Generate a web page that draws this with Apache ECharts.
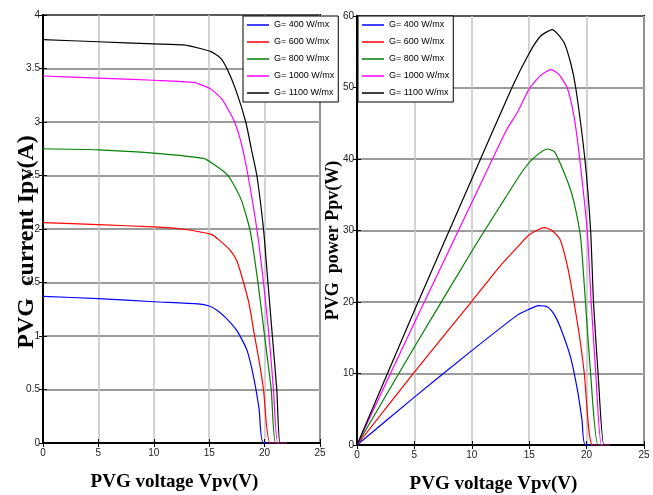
<!DOCTYPE html>
<html>
<head>
<meta charset="utf-8">
<script src="https://cdn.jsdelivr.net/npm/echarts@6/dist/echarts.min.js"></script>
<style>
  html, body { margin: 0; padding: 0; background: #fff; }
  #chart { width: 653px; height: 495px; }
</style>
</head>
<body>
<div id="chart"></div>
<script>
// irradiance levels (legend entries)
const names = ['G= 400 W/mx', 'G= 600 W/mx', 'G= 800 W/mx', 'G= 1000 W/mx', 'G= 1100 W/mx']
const colors = ['#0000ff', '#ff0000', '#008000', '#ff00ff', '#000000']

// I-V curves (voltage V, current A)
const ivVolt400 = [0, 5, 10, 14, 15, 15.7, 16.5, 17.5, 18.4, 19, 19.5, 19.9, 22]
const ivAmp400 = [1.37, 1.35, 1.32, 1.30, 1.28, 1.24, 1.17, 1.05, 0.87, 0.62, 0.32, 0, 0]
const ivVolt600 = [0, 5, 10, 12.5, 15.2, 15.8, 16.9, 17.5, 18.1, 18.6, 19.1, 19.5, 19.9, 20.5, 22]
const ivAmp600 = [2.06, 2.04, 2.02, 2.00, 1.95, 1.905, 1.80, 1.70, 1.50, 1.30, 1.00, 0.77, 0.50, 0, 0]
const ivVolt800 = [0, 5, 10, 14.5, 15.2, 16.4, 16.9, 17.9, 18.7, 19.4, 20.0, 20.6, 21.0, 22]
const ivAmp800 = [2.75, 2.74, 2.71, 2.66, 2.62, 2.53, 2.47, 2.27, 1.98, 1.50, 1.00, 0.50, 0, 0]
const ivVolt1000 = [0, 5, 10, 13.6, 15.1, 16.1, 16.8, 17.3, 17.9, 18.5, 19.3, 19.9, 20.4, 20.8, 21.2, 22]
const ivAmp1000 = [3.43, 3.41, 3.39, 3.37, 3.31, 3.22, 3.10, 3.00, 2.80, 2.50, 2.00, 1.50, 1.00, 0.50, 0, 0]
const ivVolt1100 = [0, 5, 10, 12.7, 15.1, 16.0, 16.6, 17.4, 18.3, 18.8, 19.3, 19.9, 20.3, 20.7, 21.1, 21.4, 22]
const ivAmp1100 = [3.77, 3.75, 3.73, 3.72, 3.66, 3.60, 3.50, 3.30, 3.00, 2.75, 2.50, 2.00, 1.50, 1.00, 0.50, 0, 0]

// P-V curves (voltage V, power W)
const pvVolt400 = [0, 5, 10, 14, 15, 15.8, 16.6, 17.2, 17.7, 18.6, 19.2, 19.6, 19.9, 22]
const pvWatt400 = [0, 6.7, 13.2, 18.2, 19.0, 19.5, 19.3, 18.2, 16.5, 12.3, 7.7, 3.5, 0, 0]
const pvVolt600 = [0, 5, 10, 12.5, 14, 15, 16.3, 17.0, 17.7, 18.4, 18.9, 19.4, 19.8, 20.5, 22]
const pvWatt600 = [0, 10.2, 20.1, 25.1, 27.7, 29.4, 30.4, 30.0, 28.7, 24.5, 20, 15, 10, 0, 0]
const pvVolt800 = [0, 5, 10, 12.5, 14.5, 15.5, 16.6, 17.2, 17.7, 18.6, 19.1, 19.5, 19.9, 20.35, 21.0, 22]
const pvWatt800 = [0, 13.7, 27.1, 33.5, 38.5, 40.3, 41.4, 41.0, 39.4, 35.7, 32.5, 28.7, 20, 10, 0, 0]
const pvVolt1000 = [0, 5, 10, 13, 14, 15, 16.0, 16.9, 17.6, 18.3, 18.9, 19.4, 20.05, 20.4, 20.8, 21.3, 22]
const pvWatt1000 = [0, 17.1, 33.9, 44.0, 46.6, 49.8, 51.7, 52.5, 51.8, 50, 46, 40, 30, 20, 10, 0, 0]
const pvVolt1100 = [0, 5, 10, 13.5, 15, 16.0, 17.0, 18.0, 18.6, 19.05, 19.85, 20.35, 20.6, 21.0, 21.5, 22]
const pvWatt1100 = [0, 18.8, 37.2, 50, 54.8, 57.2, 58.1, 56.4, 53.5, 50, 40, 30, 20, 10, 0, 0]

const ivSets = [[ivVolt400, ivAmp400], [ivVolt600, ivAmp600], [ivVolt800, ivAmp800], [ivVolt1000, ivAmp1000], [ivVolt1100, ivAmp1100]]
const pvSets = [[pvVolt400, pvWatt400], [pvVolt600, pvWatt600], [pvVolt800, pvWatt800], [pvVolt1000, pvWatt1000], [pvVolt1100, pvWatt1100]]

const zip = (xs, ys) => xs.map((x, i) => [x, ys[i]])

const tickFont = "'Liberation Sans Narrow', 'Liberation Sans', Arial, sans-serif"
const titleFont = "'Liberation Serif', 'Times New Roman', serif"

function bottomAxis (gridIndex) {
  return {
    type: 'value',
    gridIndex: gridIndex,
    min: 0,
    max: 25,
    interval: 5,
    axisLine: { lineStyle: { color: '#000', width: 2 } },
    axisTick: { inside: true, length: 4, lineStyle: { color: '#000' } },
    axisLabel: { margin: 5, fontFamily: tickFont, fontSize: 10, color: '#222' },
    splitLine: { lineStyle: { color: '#c4c4c4', width: 1.5 } },
    name: 'PVG voltage Vpv(V)',
    nameLocation: 'middle',
    nameGap: 30,
    nameMoveOverlap: false,
    nameTextStyle: { fontFamily: titleFont, fontWeight: 'bold', fontSize: 19, color: '#000', padding: [0, 14, 0, 0] }
  }
}

function topAxis (gridIndex) {
  return {
    type: 'value',
    gridIndex: gridIndex,
    position: 'top',
    min: 0,
    max: 25,
    interval: 5,
    axisLine: { lineStyle: { color: '#000', width: 2 } },
    axisTick: { inside: true, length: 4, lineStyle: { color: '#000' } },
    axisLabel: { show: false },
    splitLine: { show: false }
  }
}

function leftAxis (gridIndex, max, interval, name, size, gap, shift) {
  return {
    type: 'value',
    gridIndex: gridIndex,
    min: 0,
    max: max,
    interval: interval,
    axisLine: { show: true, lineStyle: { color: '#000', width: 2 } },
    axisTick: { show: true, inside: true, length: 4, lineStyle: { color: '#000' } },
    axisLabel: { margin: 3, fontFamily: tickFont, fontSize: 10, color: '#222' },
    splitLine: { lineStyle: { color: '#7a7a7a', width: 1.5 } },
    name: name,
    nameLocation: 'middle',
    nameGap: gap,
    nameMoveOverlap: false,
    nameTextStyle: { fontFamily: titleFont, fontWeight: 'bold', fontSize: size, color: '#000', padding: [0, shift, 0, 0] }
  }
}

function rightAxis (gridIndex, max, interval) {
  return {
    type: 'value',
    gridIndex: gridIndex,
    position: 'right',
    min: 0,
    max: max,
    interval: interval,
    axisLine: { show: true, lineStyle: { color: '#000', width: 2 } },
    axisTick: { show: true, inside: true, length: 4, lineStyle: { color: '#000' } },
    axisLabel: { show: false },
    splitLine: { show: false }
  }
}

function legendAt (left, top) {
  return {
    orient: 'vertical',
    left: left,
    top: top,
    data: names,
    icon: 'rect',
    itemWidth: 22,
    itemHeight: 1.5,
    itemGap: 7,
    padding: [4, 4, 4, 4],
    borderColor: '#000',
    borderWidth: 1,
    borderRadius: 0,
    backgroundColor: '#fff',
    selectedMode: false,
    textStyle: { fontFamily: tickFont, fontSize: 9, color: '#000', lineHeight: 10 }
  }
}

const series = []
ivSets.forEach((s, i) => {
  series.push({
    name: names[i],
    type: 'line',
    xAxisIndex: 0,
    yAxisIndex: 0,
    data: zip(s[0], s[1]),
    symbol: 'none',
    smooth: 0.2,
    color: colors[i],
    lineStyle: { width: 1.2, color: colors[i] }
  })
})
pvSets.forEach((s, i) => {
  series.push({
    name: names[i],
    type: 'line',
    xAxisIndex: 1,
    yAxisIndex: 1,
    data: zip(s[0], s[1]),
    symbol: 'none',
    smooth: 0.2,
    color: colors[i],
    lineStyle: { width: 1.2, color: colors[i] }
  })
})

const chart = echarts.init(document.getElementById('chart'))
chart.setOption({
  animation: false,
  backgroundColor: '#fff',
  grid: [
    { left: 43, top: 15, width: 277, height: 428, show: true, borderColor: '#000', borderWidth: 2, outerBoundsMode: 'none' },
    { left: 357, top: 16, width: 287, height: 429, show: true, borderColor: '#000', borderWidth: 2, outerBoundsMode: 'none' }
  ],
  legend: [legendAt(243, 16), legendAt(358, 16)],
  xAxis: [bottomAxis(0), bottomAxis(1), topAxis(0), topAxis(1)],
  yAxis: [
    leftAxis(0, 4, 0.5, 'PVG  current Ipv(A)', 24, 4, 26),
    leftAxis(1, 60, 10, 'PVG  power Ppv(W)', 18, 15, 20),
    rightAxis(0, 4, 0.5),
    rightAxis(1, 60, 10)
  ],
  series: series
})
</script>
</body>
</html>
